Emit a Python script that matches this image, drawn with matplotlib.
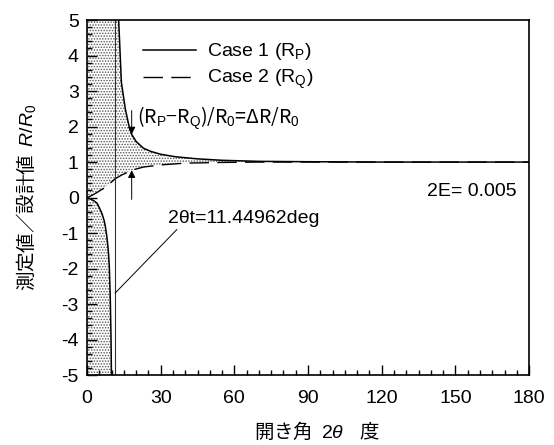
import numpy as np
import matplotlib
matplotlib.use("Agg")
import matplotlib.pyplot as plt
from matplotlib.ticker import MultipleLocator

plt.rcParams['font.family'] = ['Liberation Sans', 'Noto Sans CJK JP', 'DejaVu Sans']
plt.rcParams['mathtext.fontset'] = 'custom'
plt.rcParams['mathtext.rm'] = 'Liberation Sans'
plt.rcParams['mathtext.it'] = 'Liberation Sans:italic'
plt.rcParams['axes.unicode_minus'] = False
plt.rcParams['hatch.linewidth'] = 0.7

# transition angle 2θt (deg) and strain parameter
theta_t = 11.44962
two_e = 0.005

# Case 1 (R_P), branch left of the pole
case1_left_x = [0, 1.5, 3, 4.1, 5, 6.1, 7, 7.5, 8, 8.4, 8.8, 9.1, 9.5, 9.8, 9.95, 10.05]
case1_left_y = [0, -0.04, -0.1, -0.16, -0.28, -0.45, -0.65, -0.82, -1.05, -1.29, -1.6,
                -1.95, -2.89, -4.0, -4.95, -5.6]
# Case 1 (R_P), branch right of the pole
case1_right_x = [12.7, 12.9, 14.0, 15.6, 17.0, 18.2, 20, 23, 26, 30, 36, 45, 55, 70, 90, 120, 150, 180]
case1_right_y = [5.6, 5.0, 3.25, 2.5, 2.05, 1.78, 1.58, 1.39, 1.3, 1.22, 1.15, 1.09, 1.05,
                 1.02, 1.01, 1.0, 1.0, 1.0]
# Case 2 (R_Q)
case2_x = [0, 2, 4, 6.8, 9, 11.5, 14, 18.2, 23, 30, 40, 55, 70, 90, 180]
case2_y = [0, 0.06, 0.14, 0.26, 0.38, 0.53, 0.63, 0.77, 0.86, 0.92, 0.97, 0.99, 1.0, 1.0, 1.0]

arrow_x = 18.2

fig = plt.figure(figsize=(5.54, 4.45), dpi=100)
ax = fig.add_axes([0.157, 0.157, 0.798, 0.798])

# stippled region between R_Q and R_P (wrapping through infinity left of the pole)
up_x = case2_x + case1_right_x[::-1] + [0]
up_y = case2_y + case1_right_y[::-1] + [5.6]
ax.fill(up_x, up_y, facecolor='none', edgecolor='#555555', hatch='......', linewidth=0)
lo_x = case1_left_x + [0]
lo_y = case1_left_y + [-5.6]
ax.fill(lo_x, lo_y, facecolor='none', edgecolor='#555555', hatch='......', linewidth=0)

c1x = case1_left_x + [np.nan] + case1_right_x
c1y = case1_left_y + [np.nan] + case1_right_y
ax.plot(c1x, c1y, color='black', lw=1.1, label=r'Case 1 (R$_\mathrm{P}$)')
ax.plot(case2_x, case2_y, color='black', lw=1.0, dashes=(14, 6), label=r'Case 2 (R$_\mathrm{Q}$)')

ax.axvline(theta_t, color='#333333', lw=0.8)

# ΔR arrows
y_p = case1_right_y[case1_right_x.index(arrow_x)]
y_q = case2_y[case2_x.index(arrow_x)]
ax.annotate('', xy=(arrow_x, y_p), xytext=(arrow_x, 2.45),
            arrowprops=dict(arrowstyle='-|>', color='black', lw=0.7, mutation_scale=11,
                            shrinkA=0, shrinkB=0))
ax.annotate('', xy=(arrow_x, y_q), xytext=(arrow_x, -0.05),
            arrowprops=dict(arrowstyle='-|>', color='black', lw=0.7, mutation_scale=11,
                            shrinkA=0, shrinkB=0))
ax.text(20.2, 2.24, r'(R$_\mathrm{P}$−R$_\mathrm{Q}$)/R$_\mathrm{0}$=ΔR/R$_\mathrm{0}$',
        family=['Noto Sans CJK JP', 'DejaVu Sans'], fontsize=14, va='center', ha='left')

# 2θt label with leader line
ax.annotate('2θt=11.44962deg', xy=(theta_t, -2.69), xytext=(32.8, -0.58),
            fontsize=14, va='center', ha='left',
            arrowprops=dict(arrowstyle='-', color='black', lw=0.7, shrinkA=0, shrinkB=0,
                            relpos=(0.08, 0.0)))
ax.text(174.8, 0.18, '2E= %g' % two_e, fontsize=14, ha='right', va='center')

ax.set_xlim(0, 180)
ax.set_ylim(-5, 5)
ax.xaxis.set_major_locator(MultipleLocator(30))
ax.xaxis.set_minor_locator(MultipleLocator(5))
ax.yaxis.set_major_locator(MultipleLocator(1))
ax.yaxis.set_minor_locator(MultipleLocator(0.2))
ax.tick_params(which='both', direction='in', labelsize=14, width=1.0)
ax.tick_params(which='major', length=7)
ax.tick_params(which='minor', length=3.5)
ax.tick_params(axis='x', pad=11)
ax.tick_params(axis='y', pad=6)
for s in ax.spines.values():
    s.set_linewidth(1.2)

ax.set_xlabel('開き角  $\\mathit{2}\\theta$    度', fontsize=14,
              family=['Noto Sans CJK JP', 'DejaVu Sans'])
ax.xaxis.set_label_coords(0.52, -0.13)
ax.set_ylabel('測定値／設計値  $\\mathit{R/R_0}$', fontsize=14,
              family=['Noto Sans CJK JP', 'DejaVu Sans'])
ax.yaxis.set_label_coords(-0.11, 0.5)

ax.legend(loc='upper left', bbox_to_anchor=(0.127, 0.94), frameon=False, fontsize=14,
          handlelength=2.7, handletextpad=0.6, labelspacing=0.3, borderpad=0, borderaxespad=0)

fig.savefig('out.png', dpi=100)
